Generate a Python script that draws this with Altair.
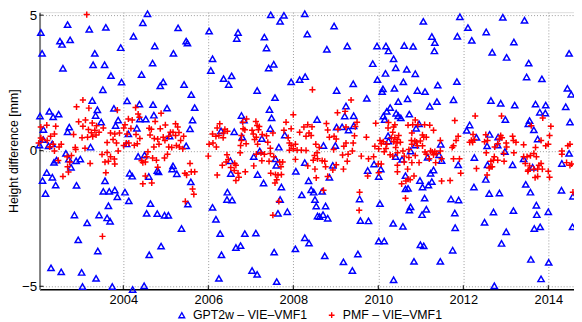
import altair as alt
import pandas as pd

S1 = "GPT2w – VIE–VMF1"
S2 = "PMF – VIE–VMF1"

x_ticks = [2004, 2006, 2008, 2010, 2012, 2014]
y_ticks = [-5, 0, 5]

# (decimal year, height difference in mm)
gpt_pts = [
    (2002.06, 4.36), (2002.69, 4.65), (2003.20, 4.48), (2003.59, 4.55), (2002.51, 4.04), (2002.56, 3.92),
    (2002.75, 4.09), (2002.09, 3.59), (2003.33, 3.59), (2003.94, 3.80), (2002.58, 3.04), (2003.29, 3.17),
    (2003.56, 3.17), (2003.71, 2.77), (2003.96, 2.53), (2003.52, 2.25), (2003.27, 1.85), (2003.39, 1.51),
    (2003.78, 1.56), (2002.26, 1.45), (2002.35, 1.25), (2002.48, 1.35), (2002.04, 1.28), (2003.35, 1.30),
    (2003.48, 1.06), (2003.88, 1.13), (2003.82, 0.93), (2002.73, 0.87), (2002.69, 0.70), (2002.12, 0.78),
    (2002.12, 0.41), (2002.03, 0.21), (2002.24, 0.18), (2002.33, 0.25), (2003.23, 0.13), (2004.08, 0.25),
    (2002.65, -0.10), (2002.72, -0.31), (2002.43, -0.35), (2002.37, -0.43), (2002.89, -0.37), (2002.99, -0.31),
    (2002.77, -0.61), (2002.20, -0.81), (2002.33, -0.98), (2002.10, -1.10), (2002.41, -1.27), (2002.17, -1.58),
    (2002.90, -1.28), (2003.57, -1.11), (2003.53, -1.50), (2003.67, -1.50), (2003.80, -1.45), (2003.86, -1.70),
    (2004.04, -1.53), (2003.65, -2.03), (2002.85, -2.37), (2003.43, -2.37), (2003.62, -2.48), (2003.69, -2.60),
    (2003.15, -2.66), (2002.94, -3.29), (2003.40, -3.70), (2002.30, -4.32), (2002.54, -4.47), (2003.02, -4.49),
    (2003.36, -4.71), (2003.04, -5.01), (2003.74, -5.01),
    (2004.57, 5.05), (2004.46, 4.72), (2005.29, 4.53), (2006.02, 4.41), (2004.24, 4.22), (2005.48, 4.04),
    (2005.51, 3.97), (2004.74, 3.86), (2005.18, 3.59), (2006.10, 3.39), (2004.69, 3.23), (2006.06, 2.96),
    (2004.43, 2.81), (2004.94, 2.54), (2004.87, 2.39), (2005.43, 2.44), (2005.60, 2.07), (2004.09, 1.84),
    (2004.38, 1.72), (2004.70, 1.70), (2005.03, 1.57), (2005.68, 1.59), (2004.72, 1.31), (2004.39, 1.17),
    (2004.53, 1.17), (2005.63, 1.13), (2004.32, 0.83), (2005.57, 0.81), (2004.12, 0.62), (2005.09, 0.54),
    (2005.48, 0.18), (2004.35, -0.21), (2004.50, -0.16), (2005.17, -0.56), (2005.15, -0.68), (2004.80, -0.73),
    (2004.83, -0.78), (2005.26, -0.85), (2004.15, -0.83), (2004.21, -0.94), (2004.60, -0.95), (2005.59, -1.15),
    (2004.13, -1.85), (2004.64, -1.95), (2005.52, -1.97), (2006.10, -2.09), (2004.55, -2.31), (2004.80, -2.32),
    (2004.97, -2.38), (2005.06, -2.38), (2005.37, -2.87), (2004.89, -3.52), (2004.61, -3.84), (2004.49, -4.98),
    (2004.22, -5.12),
    (2007.47, 5.01), (2007.78, 4.99), (2007.69, 4.77), (2006.70, 4.36), (2006.67, 4.14), (2007.32, 4.19),
    (2007.37, 3.79), (2007.54, 3.19), (2007.42, 3.05), (2006.36, 2.66), (2006.55, 2.76), (2006.48, 2.44),
    (2007.95, 2.54), (2008.15, 2.62), (2007.15, 2.22), (2007.57, 1.96), (2007.44, 1.52), (2006.78, 1.30),
    (2006.84, 1.13), (2007.49, 1.21), (2007.46, 0.82), (2006.30, 0.73), (2006.61, 0.70), (2006.80, 0.50),
    (2007.26, 0.45), (2007.80, 0.58), (2007.21, -0.01), (2007.66, 0.13), (2007.07, -0.22), (2007.58, -0.30),
    (2007.60, -0.54), (2006.52, -0.37), (2006.53, -0.84), (2007.16, -0.88), (2008.06, -0.76), (2007.30, -1.19),
    (2007.72, -1.34), (2006.45, -1.53), (2006.44, -1.80), (2006.56, -1.82), (2007.69, -1.80), (2008.20, -1.63),
    (2007.64, -2.31), (2007.86, -2.25), (2006.18, -2.53), (2006.28, -3.06), (2006.86, -3.06), (2007.12, -3.04),
    (2006.65, -3.57), (2006.76, -3.50), (2007.55, -3.74), (2008.05, -3.62), (2006.31, -3.84), (2007.03, -4.42),
    (2007.15, -4.56), (2006.25, -4.71), (2007.61, -4.83),
    (2008.27, 5.05), (2008.96, 4.60), (2008.33, 4.30), (2009.27, 3.86), (2008.79, 3.74), (2009.97, 3.86),
    (2010.18, 3.86), (2010.24, 3.68), (2009.87, 3.21), (2010.17, 2.85), (2008.28, 2.73), (2009.41, 2.47),
    (2009.98, 2.62), (2010.11, 2.28), (2010.09, 2.18), (2009.02, 2.22), (2009.73, 1.93), (2009.24, 1.65),
    (2010.28, 1.59), (2010.20, 1.45), (2009.21, 1.28), (2009.42, 1.29), (2010.12, 1.28), (2008.56, 1.15),
    (2010.15, 1.15), (2009.02, 0.87), (2009.15, 0.88), (2009.30, 0.76), (2009.42, 0.92), (2010.23, 0.55),
    (2010.24, 0.36), (2008.71, 0.19), (2008.99, 0.19), (2008.27, -0.44), (2008.93, -0.54), (2008.85, -0.98),
    (2009.90, -0.49), (2009.75, -0.73), (2010.06, -0.68), (2010.01, -0.95), (2008.36, -1.11), (2008.42, -1.44),
    (2008.48, -1.53), (2008.68, -1.50), (2008.51, -1.80), (2008.54, -2.04), (2008.76, -2.04), (2009.56, -1.78),
    (2010.04, -1.95), (2008.57, -2.41), (2008.62, -2.43), (2008.70, -2.36), (2008.81, -2.49), (2009.58, -2.58),
    (2009.77, -2.59), (2008.27, -3.21), (2008.37, -3.41), (2010.01, -3.33), (2010.14, -3.33), (2008.74, -3.88),
    (2009.52, -3.81), (2009.18, -4.10), (2009.39, -4.42),
    (2011.92, 4.94), (2011.06, 4.77), (2012.11, 4.54), (2011.86, 4.22), (2011.26, 4.21), (2012.20, 4.07),
    (2011.33, 3.99), (2010.61, 3.88), (2010.82, 3.85), (2011.32, 3.68), (2010.36, 3.39), (2010.41, 3.06),
    (2010.67, 3.00), (2010.87, 2.84), (2010.59, 2.54), (2011.85, 2.55), (2010.38, 2.30), (2010.92, 2.22),
    (2011.10, 2.18), (2011.40, 2.42), (2010.69, 1.91), (2010.47, 1.81), (2011.38, 1.81), (2011.77, 1.88),
    (2011.21, 1.64), (2010.42, 1.38), (2010.47, 1.29), (2010.53, 1.21), (2010.73, 1.35), (2010.96, 0.99),
    (2010.89, 0.83), (2012.15, 0.95), (2012.08, 0.75), (2012.31, 0.49), (2011.47, 0.24), (2010.87, 0.21),
    (2010.76, -0.01), (2011.43, -0.15), (2011.16, -0.24), (2011.49, -0.36), (2010.41, -0.22), (2010.56, -0.32),
    (2012.26, -0.25), (2011.88, -0.52), (2011.23, -0.83), (2011.30, -0.71), (2010.64, -0.92), (2010.98, -1.10),
    (2011.26, -1.14), (2011.18, -1.27), (2011.04, -1.34), (2010.64, -1.41), (2010.70, -1.39), (2012.25, -1.34),
    (2011.09, -1.75), (2011.71, -1.78), (2011.89, -1.82), (2010.76, -2.07), (2010.73, -2.19), (2011.13, -2.16),
    (2011.03, -2.36), (2011.80, -2.30), (2010.35, -2.68), (2010.58, -2.79), (2011.81, -2.84), (2010.99, -3.47),
    (2011.07, -3.51), (2011.75, -3.67), (2010.84, -4.08), (2011.46, -4.08), (2010.36, -4.76),
    (2012.93, 4.92), (2013.44, 4.81), (2012.54, 4.38), (2013.19, 4.01), (2012.68, 3.63), (2013.02, 3.44),
    (2014.49, 3.59), (2013.54, 3.23), (2013.49, 2.72), (2013.85, 2.65), (2014.45, 2.30), (2014.54, 2.08),
    (2012.65, 1.85), (2012.88, 1.75), (2013.21, 1.68), (2013.70, 1.72), (2013.94, 1.68), (2014.41, 1.62),
    (2013.80, 1.42), (2013.93, 1.39), (2012.99, 1.15), (2013.56, 1.11), (2013.53, 0.99), (2014.51, 1.06),
    (2013.66, 0.77), (2012.62, 0.60), (2012.82, 0.50), (2013.75, 0.43), (2012.56, 0.18), (2012.81, 0.21),
    (2012.98, -0.03), (2013.42, -0.30), (2013.63, -0.61), (2012.57, -0.52), (2013.16, -0.52), (2014.32, -0.47),
    (2014.49, -0.10), (2012.53, -1.06), (2013.47, -1.24), (2012.61, -1.58), (2012.85, -1.56), (2013.58, -1.53),
    (2014.31, -1.46), (2014.58, -1.68), (2013.72, -2.01), (2012.71, -2.26), (2013.18, -2.21), (2014.00, -2.25),
    (2013.73, -2.36), (2012.50, -2.64), (2013.67, -2.87), (2013.81, -2.81), (2014.57, -2.81), (2013.01, -2.99),
    (2012.90, -3.42), (2013.59, -4.01), (2014.01, -4.12), (2013.83, -4.73), (2012.73, -4.98),
]

pmf_pts = [
    (2003.14, 5.02), (2003.05, 1.87), (2002.90, 1.62), (2003.19, 1.57), (2003.86, 1.50), (2002.95, 1.07),
    (2003.11, 1.13), (2003.05, 0.90), (2003.27, 1.02), (2003.37, 0.92), (2003.53, 0.84), (2003.18, 0.78),
    (2003.33, 0.75), (2003.43, 0.68), (2003.25, 0.66), (2003.36, 0.58), (2003.28, 0.52), (2003.16, 0.50),
    (2003.03, 0.48), (2002.83, 0.60), (2003.70, 0.65), (2003.80, 0.62), (2003.91, 0.65), (2004.04, 0.96),
    (2004.01, 0.84), (2002.20, 0.94), (2002.41, 0.90), (2002.06, 0.87), (2002.38, 0.62), (2002.29, 0.53),
    (2002.21, 0.38), (2002.06, 0.47), (2002.10, 0.41), (2002.01, 0.28), (2002.35, 0.24), (2002.49, 0.14),
    (2002.54, 0.24), (2002.27, 0.14), (2002.38, -0.01), (2002.87, 0.12), (2002.88, 0.04), (2003.10, 0.09),
    (2003.62, 0.30), (2003.84, 0.28), (2003.76, 0.41), (2004.01, 0.19), (2004.07, 0.28), (2003.88, -0.01),
    (2003.62, -0.07), (2003.50, -0.14), (2003.70, -0.22), (2003.79, -0.31), (2003.57, -0.42), (2003.80, -0.49),
    (2003.65, -0.39), (2002.68, -0.22), (2002.78, -0.18), (2002.74, -0.42), (2002.69, -0.59), (2002.47, -0.36),
    (2003.22, -0.47), (2002.71, -0.79), (2002.58, -0.95), (2003.59, -0.81), (2003.51, -3.16),
    (2004.29, 1.59), (2004.35, 1.35), (2004.38, 1.23), (2004.89, 1.38), (2004.75, 1.08), (2004.12, 1.17),
    (2004.21, 1.13), (2004.18, 0.82), (2004.61, 0.83), (2004.66, 0.79), (2004.87, 0.81), (2004.99, 0.95),
    (2005.23, 0.99), (2005.28, 0.87), (2005.17, 0.68), (2005.11, 0.68), (2005.31, 0.67), (2005.42, 0.53),
    (2005.23, 0.56), (2004.94, 0.50), (2005.07, 0.53), (2004.73, 0.45), (2004.81, 0.43), (2004.63, 0.58),
    (2004.30, 0.60), (2004.39, 0.45), (2004.09, 0.62), (2004.13, 0.28), (2004.26, 0.20), (2004.33, 0.26),
    (2004.72, 0.14), (2004.84, 0.24), (2004.98, 0.38), (2005.07, 0.14), (2005.14, 0.12), (2005.25, 0.19),
    (2005.32, 0.14), (2005.35, 0.38), (2005.40, 0.07), (2005.04, -0.13), (2004.97, -0.27), (2004.58, -0.04),
    (2004.55, -0.22), (2004.46, -0.44), (2004.43, -0.37), (2004.52, -0.42), (2004.78, -0.35), (2004.69, -0.27),
    (2004.81, -0.61), (2004.52, -0.93), (2004.46, -1.22), (2004.67, -1.19), (2005.57, -0.47), (2005.60, -0.78),
    (2005.45, -0.83), (2005.49, -0.90), (2005.68, -0.78), (2005.63, -1.41), (2005.66, -1.61), (2005.46, -1.87),
    (2006.10, 0.62), (2006.11, 0.28), (2006.02, 0.24), (2006.00, -0.20),
    (2006.27, 0.99), (2006.21, 0.84), (2006.39, 0.79), (2006.45, 0.72), (2006.36, 0.65), (2006.25, 0.56),
    (2006.35, 0.48), (2006.18, 0.53), (2006.19, 0.14), (2006.21, -0.90), (2006.82, 0.81), (2006.90, 1.17),
    (2006.81, 1.05), (2006.86, 0.77), (2006.78, 0.56), (2006.78, 0.38), (2006.89, 0.26), (2006.76, 0.19),
    (2006.75, -0.08), (2006.44, -0.15), (2006.42, -0.42), (2006.33, -0.54), (2006.53, -0.62), (2006.62, -0.47),
    (2006.65, -0.54), (2006.61, -0.73), (2006.70, -0.83), (2006.72, -0.98), (2006.65, -1.10), (2006.87, -0.78),
    (2006.47, -0.32), (2007.03, 0.75), (2007.06, 0.62), (2007.12, 1.08), (2007.15, 0.93), (2007.20, 0.89),
    (2007.18, 0.77), (2007.13, 0.50), (2007.09, 0.41), (2007.16, 0.24), (2007.27, 0.60), (2007.37, 0.55),
    (2007.52, 0.65), (2007.40, 0.31), (2007.13, -0.13), (2007.24, -0.08), (2007.32, -0.13), (2007.46, 0.09),
    (2007.46, -0.10), (2007.54, -0.22), (2007.26, -0.37), (2007.43, -0.39), (2007.07, -0.56), (2007.68, -0.42),
    (2007.75, -0.42), (2007.71, -0.59), (2007.47, -0.83), (2007.58, -0.88), (2007.64, -0.90), (2007.72, -0.88),
    (2007.61, -1.07), (2007.57, -1.19), (2007.66, -1.87), (2007.52, -2.38), (2007.83, 1.05), (2007.78, 0.75),
    (2007.95, 0.81), (2007.88, 0.48), (2008.00, 1.33), (2007.91, 0.28), (2007.95, 0.19), (2008.05, 0.24),
    (2008.00, 0.07), (2007.91, 0.02), (2008.09, 0.02), (2008.05, -0.32), (2008.15, 0.68), (2008.19, 0.02),
    (2008.45, 2.25), (2009.36, 1.87), (2009.22, 1.45), (2009.04, 1.40), (2009.50, 1.05), (2009.94, 1.01),
    (2008.78, 1.00), (2008.34, 0.96), (2008.44, 0.88), (2008.25, 0.87), (2008.81, 0.76), (2009.05, 0.79),
    (2009.24, 0.87), (2009.46, 0.89), (2008.37, 0.65), (2008.42, 0.56), (2008.30, 0.53), (2008.85, 0.50),
    (2008.96, 0.53), (2009.01, 0.43), (2009.44, 0.55), (2009.72, 0.50), (2009.24, 0.28), (2009.41, 0.28),
    (2009.19, 0.16), (2008.53, 0.24), (2008.61, 0.12), (2008.30, 0.01), (2008.95, 0.04), (2009.39, -0.01),
    (2009.16, -0.16), (2009.29, -0.13), (2009.60, -0.20), (2008.50, -0.18), (2008.56, -0.08), (2008.57, -0.30),
    (2008.47, -0.35), (2008.68, -0.37), (2008.74, -0.39), (2008.34, -0.56), (2008.76, -0.59), (2009.01, -0.52),
    (2009.27, -0.39), (2008.51, -0.68), (2008.93, -0.71), (2009.18, -0.68), (2008.54, -1.00), (2008.81, -0.95),
    (2009.77, -0.30), (2009.89, -0.22), (2009.92, 0.16), (2010.04, 0.38), (2010.07, 0.26), (2010.12, 0.33),
    (2010.20, 0.24), (2010.01, 0.07), (2010.14, -0.04), (2010.18, 0.08), (2010.28, -0.15), (2010.34, -0.20),
    (2010.31, 0.48), (2010.34, 0.68), (2010.23, 0.84), (2010.24, 1.04), (2010.00, -0.49), (2010.07, -0.49),
    (2009.75, -0.93), (2010.01, -0.81), (2008.71, -1.46), (2009.56, -1.53), (2009.55, -2.20),
    (2010.87, 1.13), (2010.70, 0.94), (2010.81, 0.96), (2010.93, 0.96), (2011.09, 0.96), (2011.21, 0.94),
    (2011.30, 0.75), (2011.80, 1.11), (2012.28, 1.28), (2010.39, 0.96), (2010.36, 0.87), (2010.79, 0.65),
    (2011.04, 0.58), (2011.07, 0.50), (2011.13, 0.50), (2010.48, 0.56), (2010.39, 0.48), (2010.45, 0.41),
    (2010.36, 0.33), (2010.44, 0.28), (2010.52, 0.31), (2010.78, 0.38), (2010.86, 0.36), (2010.90, 0.32),
    (2010.99, 0.36), (2010.79, 0.24), (2010.92, 0.18), (2011.04, 0.18), (2011.46, 0.38), (2011.88, 0.53),
    (2011.83, 0.38), (2011.77, 0.18), (2011.74, 0.12), (2012.23, 0.60), (2012.19, 0.38), (2012.26, 0.41),
    (2012.15, 0.31), (2012.22, 0.31), (2010.41, 0.12), (2010.58, -0.01), (2010.72, 0.04), (2010.61, -0.20),
    (2010.45, -0.08), (2010.72, -0.25), (2010.87, -0.18), (2011.10, -0.05), (2011.13, -0.13), (2011.23, -0.01),
    (2011.27, -0.05), (2011.33, -0.03), (2011.37, -0.10), (2011.30, -0.15), (2011.20, -0.30), (2011.35, -0.44),
    (2011.46, -0.01), (2011.49, -0.30), (2010.96, -0.44), (2010.79, -0.44), (2010.61, -0.42), (2010.45, -0.54),
    (2010.69, -0.68), (2010.45, -0.78), (2010.84, -0.93), (2010.70, -1.05), (2010.65, -1.12), (2010.75, -1.07),
    (2010.55, -1.22), (2010.64, -1.75), (2011.49, -1.12), (2011.69, -1.10), (2011.77, -0.30), (2011.91, -0.30),
    (2011.94, -0.83), (2012.31, -0.66),
    (2012.90, 1.28), (2013.87, 1.21), (2014.06, 0.90), (2013.60, 0.92), (2012.53, 0.59), (2012.57, 0.38),
    (2012.50, 0.33), (2012.88, 0.56), (2012.91, 0.48), (2012.85, 0.43), (2013.01, 0.28), (2013.02, 0.14),
    (2012.74, 0.14), (2012.81, 0.26), (2013.16, 0.53), (2013.18, 0.38), (2013.24, 0.31), (2013.42, 0.22),
    (2013.83, 0.38), (2014.03, 0.56), (2013.94, 0.18), (2014.00, 0.24), (2013.70, 0.12), (2014.46, 0.18),
    (2014.51, 0.24), (2012.54, -0.08), (2012.95, -0.10), (2013.19, -0.08), (2012.73, -0.22), (2012.71, -0.35),
    (2012.81, -0.35), (2012.96, -0.39), (2012.65, -0.39), (2012.65, -0.59), (2012.61, -0.64), (2012.68, -0.59),
    (2012.56, -0.90), (2013.42, -0.22), (2013.50, -0.22), (2013.58, -0.18), (2013.66, -0.10), (2013.72, -0.22),
    (2013.46, -0.47), (2013.83, -0.47), (2013.78, -0.54), (2013.56, -0.56), (2013.53, -0.71), (2013.52, -0.76),
    (2013.66, -0.68), (2013.75, -0.68), (2013.86, -0.68), (2014.00, -0.76), (2013.69, -0.99), (2013.75, -0.95),
    (2014.03, -0.98), (2014.32, -0.01), (2014.32, -0.13), (2014.43, -0.44), (2014.51, -0.54), (2014.55, -0.49),
    (2014.58, -1.53),
]

rows = [{"t": t, "v": v, "s": S1} for t, v in gpt_pts] + [{"t": t, "v": v, "s": S2} for t, v in pmf_pts]
df = pd.DataFrame(rows)

W, H = 542, 281
FONT = "Liberation Sans"
xs = alt.Scale(domain=[2002.03, 2014.605], nice=False, zero=False)
ys = alt.Scale(domain=[-5.11, 5.11], nice=False, zero=False)

x_axis = alt.Axis(values=x_ticks, format="d", title=None, grid=True,
                  gridDash=[1, 2], gridColor="#9a9a9a", gridWidth=1, ticks=False, tickSize=0,
                  labelPadding=4, labelFontSize=13, labelFont=FONT, labelColor="black",
                  domainColor="black", domainWidth=1.5)
y_axis = alt.Axis(values=y_ticks, title="Height difference [mm]", grid=True,
                  gridDash=[1, 2], gridColor="#9a9a9a", gridWidth=1, ticks=False, tickSize=0,
                  labelPadding=3, labelFontSize=13.5, labelFont=FONT, labelColor="black",
                  titleFontSize=12.5, titleFont=FONT, titleFontWeight="normal", titleColor="black",
                  titlePadding=1, domainColor="#808080", domainWidth=2)

leg = alt.Legend(title=None, orient="none", direction="horizontal", legendX=138, legendY=301,
                 labelFontSize=12.5, labelFont=FONT, labelColor="black", symbolSize=34,
                 symbolStrokeWidth=1.4, labelOffset=5, columnPadding=18, labelLimit=300, padding=0)

points = alt.Chart(df).mark_point(filled=False, opacity=1, strokeWidth=1.5, size=40).encode(
    x=alt.X("t:Q", scale=xs, axis=x_axis, title=None),
    y=alt.Y("v:Q", scale=ys, axis=y_axis, title="Height difference [mm]"),
    color=alt.Color("s:N", scale=alt.Scale(domain=[S1, S2], range=["#0000ff", "#ff0000"]), legend=leg),
    shape=alt.Shape("s:N", scale=alt.Scale(domain=[S1, S2], range=["triangle-up", "M-1,0H1M0,-1V1"]), legend=leg),
)

xt = alt.Chart(pd.DataFrame({"t": x_ticks})).mark_rule(color="black", strokeWidth=1).encode(
    x=alt.X("t:Q", scale=xs, axis=x_axis, title=None), y=alt.value(H), y2=alt.value(H - 4))
yt = alt.Chart(pd.DataFrame({"v": y_ticks})).mark_rule(color="black", strokeWidth=1).encode(
    y=alt.Y("v:Q", scale=ys, axis=y_axis, title="Height difference [mm]"), x=alt.value(0), x2=alt.value(4))

chart = alt.layer(points, xt, yt).properties(
    width=W, height=H,
    autosize=alt.AutoSizeParams(type="none"),
    padding={"left": 32, "top": 2, "right": 0, "bottom": 30},
).configure_view(stroke=None).configure(background="white")

chart.save("out.html", embed_options={"renderer": "svg", "actions": False})
